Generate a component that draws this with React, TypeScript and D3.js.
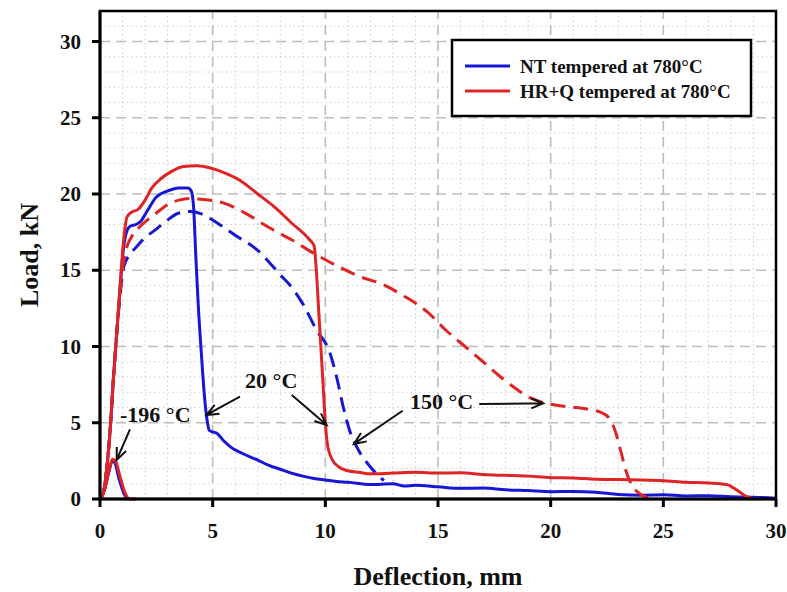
import * as d3 from 'd3'

const xTicks = [0, 5, 10, 15, 20, 25, 30]
const yTicks = [0, 5, 10, 15, 20, 25, 30]
const legendLabels = ['NT tempered at 780°C', 'HR+Q tempered at 780°C']

// [deflection mm, load kN]
const ntMinus196 = [[0, 0], [0.2, 0.6], [0.4, 1.8], [0.55, 2.5], [0.65, 2.4], [0.85, 1.3], [1.05, 0.4], [1.2, 0]]
const hrMinus196 = [[0, 0], [0.2, 0.6], [0.4, 1.9], [0.56, 2.6], [0.7, 2.45], [0.9, 1.4], [1.1, 0.45], [1.3, 0], [1.6, 0]]

const nt20 = [
  [0, 0], [0.15, 0.4], [0.3, 2], [0.45, 4.5], [0.6, 8], [0.75, 11], [0.9, 14], [1.05, 16.5], [1.2, 17.6],
  [1.35, 17.9], [1.6, 18.0], [1.8, 18.2], [2.1, 18.9], [2.5, 19.8], [3.0, 20.2], [3.5, 20.4], [3.9, 20.4],
  [4.05, 20.2], [4.15, 19.2], [4.25, 16], [4.35, 13], [4.5, 9.5], [4.65, 6.5], [4.75, 5.2], [4.85, 4.5],
  [5.0, 4.4], [5.2, 4.3], [5.5, 3.8], [5.8, 3.4], [6.3, 3.0], [7.0, 2.55], [7.5, 2.2], [8.0, 1.95], [8.5, 1.7],
  [9.0, 1.5], [9.5, 1.35], [10.0, 1.25], [10.5, 1.15], [11, 1.1], [12, 0.95], [13, 1.0], [13.5, 0.85], [14, 0.9],
  [15, 0.8], [16, 0.7], [17, 0.72], [18, 0.6], [19, 0.55], [20, 0.48], [21, 0.5], [22, 0.45], [23, 0.3],
  [24, 0.25], [25, 0.28], [26, 0.2], [27, 0.22], [28, 0.15], [29, 0.12], [30, 0.05],
]
const hr20 = [
  [0, 0], [0.15, 0.4], [0.3, 2], [0.45, 4.5], [0.6, 8], [0.75, 11], [0.9, 14.2], [1.05, 17], [1.2, 18.5],
  [1.4, 18.8], [1.7, 19.0], [2.0, 19.6], [2.3, 20.4], [2.7, 21.0], [3.2, 21.5], [3.7, 21.8], [4.3, 21.85],
  [4.9, 21.7], [5.5, 21.4], [6.2, 20.9], [7.0, 20.0], [7.7, 19.2], [8.5, 18.1], [9.3, 17.0], [9.5, 16.6],
  [9.6, 15], [9.7, 12.5], [9.8, 10], [9.9, 7.5], [10.0, 5.0], [10.1, 3.5], [10.3, 2.6], [10.6, 2.1],
  [11.0, 1.85], [11.5, 1.75], [12, 1.65], [13, 1.7], [14, 1.75], [15, 1.7], [16, 1.72], [17, 1.6], [18, 1.55],
  [19, 1.5], [20, 1.4], [21, 1.38], [22, 1.3], [23, 1.28], [24, 1.25], [25, 1.2], [26, 1.1], [27, 1.05],
  [27.8, 0.95], [28.25, 0.6], [28.7, 0.15], [29, 0],
]
const nt150 = [
  [0, 0], [0.15, 0.4], [0.3, 2], [0.45, 4.5], [0.6, 8], [0.75, 11], [0.9, 13.5], [1.05, 15.2], [1.3, 16],
  [1.6, 16.5], [1.9, 17], [2.5, 17.7], [3.0, 18.3], [3.5, 18.75], [4.0, 18.85], [4.5, 18.7], [5.0, 18.3],
  [5.5, 17.8], [6.0, 17.3], [7.0, 16.3], [8.0, 14.7], [8.5, 13.9], [9.0, 12.8], [9.6, 11.1], [10.2, 9.6],
  [10.5, 8], [10.8, 6], [11.1, 4.4], [11.4, 3.4], [12.0, 2.1], [12.6, 1.2],
]
const hr150 = [
  [0, 0], [0.15, 0.4], [0.3, 2], [0.45, 4.5], [0.6, 8], [0.75, 11], [0.95, 14.5], [1.15, 16.3], [1.4, 17.2],
  [1.8, 17.9], [2.5, 18.75], [3.0, 19.3], [3.5, 19.6], [4.0, 19.7], [4.5, 19.65], [5.5, 19.4], [6.5, 18.7],
  [7.5, 17.8], [8.5, 17.0], [9.5, 16.1], [10.5, 15.3], [11.5, 14.6], [12.5, 14.1], [13.5, 13.3], [14.5, 12.3],
  [15.4, 11.0], [16.2, 10.0], [17.0, 9.0], [17.7, 8.1], [18.4, 7.3], [19.0, 6.7], [19.6, 6.35], [20.5, 6.1],
  [21.4, 5.95], [22.2, 5.7], [22.6, 5.3], [22.9, 4.3], [23.1, 3.2], [23.35, 1.8], [23.6, 0.9], [23.9, 0.4],
  [24.4, 0.05],
]

// temperature annotations: label position and arrows [from, to] in data units
const tempLabels = [
  { text: '-196 °C', x: 0.89, y: 5.07 },
  { text: '20 °C', x: 6.44, y: 7.28 },
  { text: '150 °C', x: 13.76, y: 5.88 },
]
const tempArrows = [
  [[1.33, 4.57], [0.74, 2.56]],
  [[6.21, 6.71], [4.73, 5.51]],
  [[8.51, 6.82], [10.06, 4.85]],
  [[13.43, 5.79], [11.27, 3.61]],
  [[16.83, 6.23], [19.67, 6.28]],
]

const BLUE = '#1616d4'
const RED = '#de2424'
const FONT = '"Liberation Serif", "Times New Roman", serif'

export default function App() {
  const width = 787
  const height = 592
  const x = d3.scaleLinear().domain([0, 30]).range([100, 776])
  const y = d3.scaleLinear().domain([0, 32]).range([499, 11])

  const line = d3
    .line<number[]>()
    .x(d => x(d[0]))
    .y(d => y(d[1]))
    .curve(d3.curveMonotoneX)

  const minorX = d3.range(0, 31, 1).filter(v => v % 5 !== 0)
  const minorY = d3.range(0, 33, 1).filter(v => v % 5 !== 0)

  const series = [
    { data: nt150, color: BLUE, dash: '15,8' },
    { data: nt20, color: BLUE, dash: null },
    { data: ntMinus196, color: BLUE, dash: null },
    { data: hr150, color: RED, dash: '15,8' },
    { data: hr20, color: RED, dash: null },
    { data: hrMinus196, color: RED, dash: null },
  ]

  const arrowPath = (a: number[][]) => {
    const x1 = x(a[0][0]), y1 = y(a[0][1])
    const x2 = x(a[1][0]), y2 = y(a[1][1])
    const ang = Math.atan2(y2 - y1, x2 - x1)
    const len = 13
    const spread = 0.4
    const hx1 = x2 - len * Math.cos(ang - spread), hy1 = y2 - len * Math.sin(ang - spread)
    const hx2 = x2 - len * Math.cos(ang + spread), hy2 = y2 - len * Math.sin(ang + spread)
    return `M${x1},${y1}L${x2},${y2}M${hx1},${hy1}L${x2},${y2}L${hx2},${hy2}`
  }

  return (
    <svg
      width={width}
      height={height}
      style={{ position: 'absolute', left: 0, top: 0, background: 'white' }}
      fontFamily={FONT}
    >
      <rect width={width} height={height} fill="white" />

      {/* minor grid */}
      <g stroke="#cfcfcf" strokeWidth={1} strokeDasharray="1.5,3">
        {minorX.map(v => (
          <line key={'mx' + v} x1={x(v)} x2={x(v)} y1={y(0)} y2={y(32)} />
        ))}
        {minorY.map(v => (
          <line key={'my' + v} x1={x(0)} x2={x(30)} y1={y(v)} y2={y(v)} />
        ))}
      </g>

      {/* major grid */}
      <g stroke="#bdbdbd" strokeWidth={1.6} strokeDasharray="10,6">
        {xTicks.slice(1, -1).map(v => (
          <line key={'gx' + v} x1={x(v)} x2={x(v)} y1={y(0)} y2={y(32)} />
        ))}
        {yTicks.slice(1).map(v => (
          <line key={'gy' + v} x1={x(0)} x2={x(30)} y1={y(v)} y2={y(v)} />
        ))}
      </g>

      {/* curves */}
      <g fill="none" strokeWidth={3} strokeLinejoin="round" strokeLinecap="butt">
        {series.map((s, i) => (
          <path
            key={i}
            d={line(s.data) ?? ''}
            stroke={s.color}
            strokeDasharray={s.dash ?? undefined}
          />
        ))}
      </g>

      {/* frame and axes */}
      <rect x={x(0)} y={y(32)} width={x(30) - x(0)} height={y(0) - y(32)} fill="none" stroke="black" strokeWidth={2.5} />
      <g stroke="black" strokeWidth={3}>
        <line x1={x(0)} x2={x(30)} y1={y(0)} y2={y(0)} />
        <line x1={x(0)} x2={x(0)} y1={y(0)} y2={y(32)} />
        {xTicks.map(v => (
          <line key={'tx' + v} x1={x(v)} x2={x(v)} y1={y(0)} y2={y(0) + 8} />
        ))}
        {yTicks.map(v => (
          <line key={'ty' + v} x1={x(0) - 8} x2={x(0)} y1={y(v)} y2={y(v)} />
        ))}
      </g>

      {/* tick labels */}
      <g fontSize={21} fontWeight="bold" fill="#111">
        {xTicks.map(v => (
          <text key={'lx' + v} x={x(v)} y={y(0) + 39} textAnchor="middle">
            {v}
          </text>
        ))}
        {yTicks.map(v => (
          <text key={'ly' + v} x={x(0) - 19} y={y(v) + 7} textAnchor="end">
            {v}
          </text>
        ))}
      </g>

      {/* axis titles */}
      <text x={(x(0) + x(30)) / 2} y={585} textAnchor="middle" fontSize={26} fontWeight="bold" fill="#111">
        Deflection, mm
      </text>
      <text
        transform={`translate(38, ${y(16)}) rotate(-90)`}
        textAnchor="middle"
        fontSize={26}
        fontWeight="bold"
        fill="#111"
      >
        Load, kN
      </text>

      {/* annotations */}
      <g fontSize={22} fontWeight="bold" fill="#111">
        {tempLabels.map(t => (
          <text key={t.text} x={x(t.x)} y={y(t.y)}>
            {t.text}
          </text>
        ))}
      </g>
      <g fill="none" stroke="#111" strokeWidth={2}>
        {tempArrows.map((a, i) => (
          <path key={i} d={arrowPath(a)} />
        ))}
      </g>

      {/* legend */}
      <g>
        <rect x={452} y={40} width={299} height={76} fill="white" stroke="black" strokeWidth={2.5} />
        {legendLabels.map((label, i) => (
          <g key={label}>
            <line x1={465} x2={510} y1={66 + i * 25} y2={66 + i * 25} stroke={i === 0 ? BLUE : RED} strokeWidth={3} />
            <text x={520} y={73 + i * 25} fontSize={19} fontWeight="bold" fill="#111">
              {label}
            </text>
          </g>
        ))}
      </g>
    </svg>
  )
}
